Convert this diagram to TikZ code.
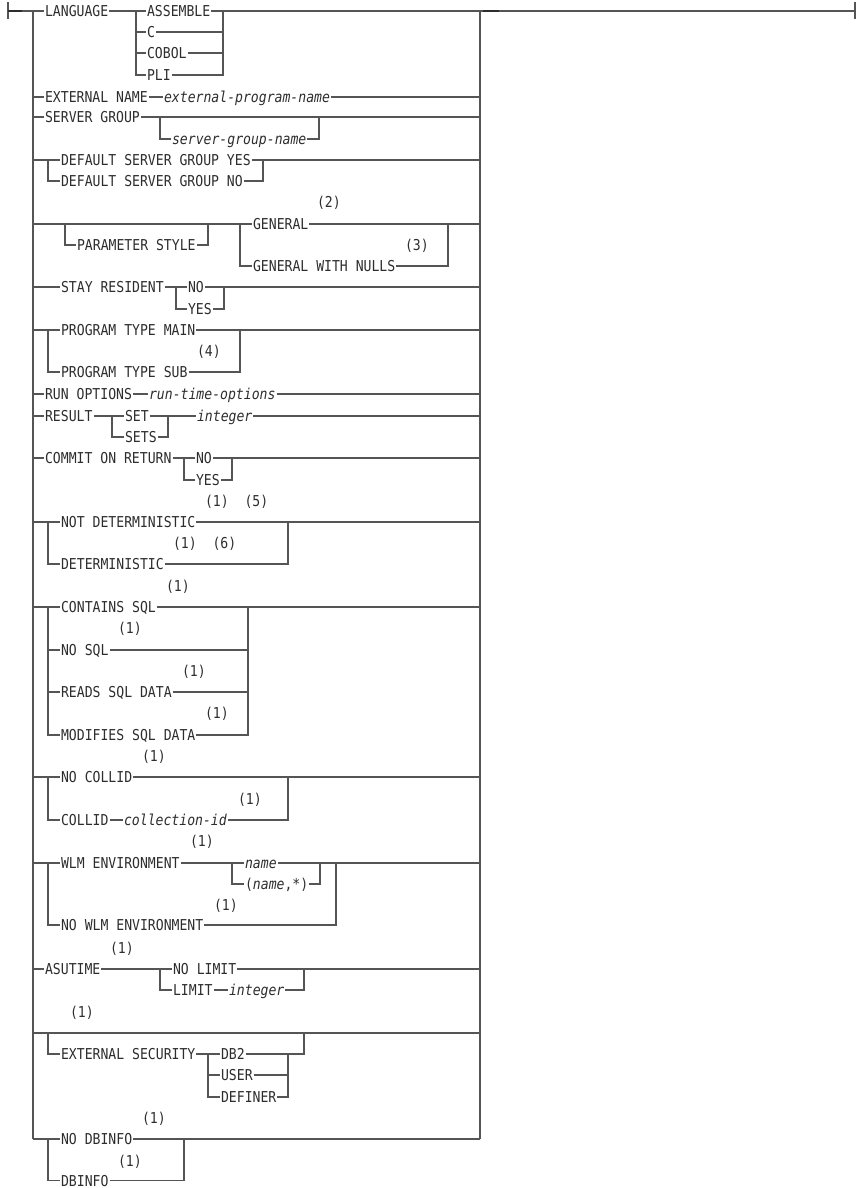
\documentclass[tikz,border=0pt]{standalone}
\usepackage{fontspec}
\newfontfamily\dm[FakeStretch=0.875]{DejaVu Sans Mono}
\definecolor{lc}{RGB}{85,85,85}
\definecolor{tx}{RGB}{45,45,45}
\tikzset{
 kw/.style={anchor=west, inner xsep=0.5pt, inner ysep=0pt, text height=11pt, text depth=0pt, font=\dm\fontsize{15}{15}\selectfont, text=tx},
 var/.style={kw, font=\dm\itshape\fontsize{15}{15}\selectfont},
 heavy/.style={line width=1.8pt, draw=tx},
}
\begin{document}
\begin{tikzpicture}[x=1pt, y=-1pt, line width=1.1pt, color=lc]
\useasboundingbox (0,0) rectangle (861,1188);
\coordinate (L) at (33,0);
\coordinate (R) at (480,0);
\coordinate (st) at (8,11);
\coordinate (en) at (855,11);
% nodes
\node[kw] (lang) at (44,11) {LANGUAGE};
\node[kw] (asm) at (146,11) {ASSEMBLE};
\node[kw] (c) at (146,32) {C};
\node[kw] (cob) at (146,53) {COBOL};
\node[kw] (pli) at (146,75) {PLI};
\node[kw] (ext) at (44,97) {EXTERNAL NAME};
\node[var] (epn) at (163,97) {external-program-name};
\node[kw] (sg) at (44,117) {SERVER GROUP};
\node[var] (sgn) at (171,139) {server-group-name};
\node[kw] (dy) at (60,160) {DEFAULT SERVER GROUP YES};
\node[kw] (dn) at (60,181) {DEFAULT SERVER GROUP NO};
\node[kw] (n2) at (316,202) {(2)};
\node[kw] (ps) at (76,245) {PARAMETER STYLE};
\node[kw] (gen) at (252,224) {GENERAL};
\node[kw] (n3) at (404,245) {(3)};
\node[kw] (gwn) at (252,266) {GENERAL WITH NULLS};
\node[kw] (sr) at (60,287) {STAY RESIDENT};
\node[kw] (srno) at (187,287) {NO};
\node[kw] (sryes) at (187,309) {YES};
\node[kw] (ptm) at (60,330) {PROGRAM TYPE MAIN};
\node[kw] (n4) at (196,351) {(4)};
\node[kw] (pts) at (60,372) {PROGRAM TYPE SUB};
\node[kw] (ro) at (44,394) {RUN OPTIONS};
\node[var] (rto) at (148,394) {run-time-options};
\node[kw] (res) at (44,416) {RESULT};
\node[kw] (set) at (124,416) {SET};
\node[kw] (sets) at (124,437) {SETS};
\node[var] (rint) at (196,416) {integer};
\node[kw] (cor) at (44,458) {COMMIT ON RETURN};
\node[kw] (corno) at (195,458) {NO};
\node[kw] (coryes) at (195,480) {YES};
\node[kw] (n15) at (204,501) {(1)\ \ (5)};
\node[kw] (nd) at (60,522) {NOT DETERMINISTIC};
\node[kw] (n16) at (172,543) {(1)\ \ (6)};
\node[kw] (det) at (60,564) {DETERMINISTIC};
\node[kw] (n1a) at (165,586) {(1)};
\node[kw] (cs) at (60,607) {CONTAINS SQL};
\node[kw] (n1b) at (117,628) {(1)};
\node[kw] (nsql) at (60,650) {NO SQL};
\node[kw] (n1c) at (181,671) {(1)};
\node[kw] (rsd) at (60,692) {READS SQL DATA};
\node[kw] (n1d) at (204,713) {(1)};
\node[kw] (msd) at (60,735) {MODIFIES SQL DATA};
\node[kw] (n1e) at (141,756) {(1)};
\node[kw] (nc) at (60,777) {NO COLLID};
\node[kw] (n1f) at (237,799) {(1)};
\node[kw] (col) at (60,820) {COLLID};
\node[var] (cid) at (123,820) {collection-id};
\node[kw] (n1g) at (189,841) {(1)};
\node[kw] (wlm) at (60,863) {WLM ENVIRONMENT};
\node[var] (wname) at (244,863) {name};
\node[kw] (wnst) at (244,884) {(\textit{name},*)};
\node[kw] (n1h) at (213,905) {(1)};
\node[kw] (nwlm) at (60,925) {NO WLM ENVIRONMENT};
\node[kw] (n1i) at (109,948) {(1)};
\node[kw] (asu) at (44,969) {ASUTIME};
\node[kw] (nl) at (172,969) {NO LIMIT};
\node[kw] (lim) at (172,990) {LIMIT};
\node[var] (aint) at (228,990) {integer};
\node[kw] (n1j) at (69,1012) {(1)};
\node[kw] (es) at (60,1054) {EXTERNAL SECURITY};
\node[kw] (db2) at (220,1054) {DB2};
\node[kw] (user) at (220,1075) {USER};
\node[kw] (def) at (220,1097) {DEFINER};
\node[kw] (n1k) at (141,1118) {(1)};
\node[kw] (ndb) at (60,1139) {NO DBINFO};
\node[kw] (n1l) at (117,1161) {(1)};
\node[kw] (dbi) at (60,1180.5) {DBINFO};
% main line and rails
\draw (8,2) -- (8,19);
\draw (855,2) -- (855,19);
\draw (st) -- (lang.west);
\draw (lang.east) -- (asm.west);
\draw (asm.east) -- (en);
\draw[heavy] (st) -- (22,11);
\draw[heavy] (483,11) -- (499,11);
\draw (33,11) -- (33,1139);
\draw (480,11) -- (480,1139);
% LANGUAGE
\draw (136,11) |- (pli.west);
\draw (136,32) -- (c.west);
\draw (136,53) -- (cob.west);
\draw (pli.east) -| (223,11);
\draw (c.east) -- (223,32);
\draw (cob.east) -- (223,53);
% EXTERNAL NAME
\draw (ext.west -| L) -- (ext.west);
\draw (ext.east) -- (epn.west);
\draw (epn.east) -- (epn.east -| R);
% SERVER GROUP
\draw (sg.west -| L) -- (sg.west);
\draw (sg.east) -- (sg.east -| R);
\draw (160,117) |- (sgn.west);
\draw (sgn.east) -| (319,117);
% DEFAULT SERVER GROUP
\draw (dy.west -| L) -- (dy.west);
\draw (48,160) |- (dn.west);
\draw (dn.east) -| (263,160);
\draw (dy.east) -- (dy.east -| R);
% PARAMETER STYLE
\draw (gen.west -| L) -- (gen.west);
\draw (65,224) |- (ps.west);
\draw (ps.east) -| (208,224);
\draw (240,224) |- (gwn.west);
\draw (gwn.east) -| (448,224);
\draw (gen.east) -- (gen.east -| R);
% STAY RESIDENT
\draw (sr.west -| L) -- (sr.west);
\draw (sr.east) -- (srno.west);
\draw (176,287) |- (sryes.west);
\draw (sryes.east) -| (224,287);
\draw (srno.east) -- (srno.east -| R);
% PROGRAM TYPE
\draw (ptm.west -| L) -- (ptm.west);
\draw (48,330) |- (pts.west);
\draw (pts.east) -| (240,330);
\draw (ptm.east) -- (ptm.east -| R);
% RUN OPTIONS
\draw (ro.west -| L) -- (ro.west);
\draw (ro.east) -- (rto.west);
\draw (rto.east) -- (rto.east -| R);
% RESULT
\draw (res.west -| L) -- (res.west);
\draw (res.east) -- (set.west);
\draw (112,416) |- (sets.west);
\draw (sets.east) -| (168,416);
\draw (set.east) -- (rint.west);
\draw (rint.east) -- (rint.east -| R);
% COMMIT ON RETURN
\draw (cor.west -| L) -- (cor.west);
\draw (cor.east) -- (corno.west);
\draw (184,458) |- (coryes.west);
\draw (coryes.east) -| (232,458);
\draw (corno.east) -- (corno.east -| R);
% DETERMINISTIC
\draw (nd.west -| L) -- (nd.west);
\draw (48,522) |- (det.west);
\draw (det.east) -| (288,522);
\draw (nd.east) -- (nd.east -| R);
% SQL
\draw (cs.west -| L) -- (cs.west);
\draw (48,607) |- (msd.west);
\draw (48,650) -- (nsql.west);
\draw (48,692) -- (rsd.west);
\draw (msd.east) -| (248,607);
\draw (nsql.east) -- (248,650);
\draw (rsd.east) -- (248,692);
\draw (cs.east) -- (cs.east -| R);
% COLLID
\draw (nc.west -| L) -- (nc.west);
\draw (48,777) |- (col.west);
\draw (col.east) -- (cid.west);
\draw (cid.east) -| (288,777);
\draw (nc.east) -- (nc.east -| R);
% WLM
\draw (wlm.west -| L) -- (wlm.west);
\draw (48,863) |- (nwlm.west);
\draw (wlm.east) -- (wname.west);
\draw (232,863) |- (wnst.west);
\draw (wnst.east) -| (320,863);
\draw (nwlm.east) -| (336,863);
\draw (wname.east) -- (wname.east -| R);
% ASUTIME
\draw (asu.west -| L) -- (asu.west);
\draw (asu.east) -- (nl.west);
\draw (160,969) |- (lim.west);
\draw (lim.east) -- (aint.west);
\draw (aint.east) -| (304,969);
\draw (nl.east) -- (nl.east -| R);
% EXTERNAL SECURITY
\draw (33,1033) -- (480,1033);
\draw (48,1033) |- (es.west);
\draw (es.east) -- (db2.west);
\draw (208,1054) |- (def.west);
\draw (208,1075) -- (user.west);
\draw (db2.east) -| (304,1033);
\draw (288,1054) |- (def.east);
\draw (user.east) -- (288,1075);
% DBINFO
\draw (ndb.west -| L) -- (ndb.west);
\draw (48,1139) |- (dbi.west);
\draw (dbi.east) -| (184,1139);
\draw (ndb.east) -- (ndb.east -| R);
\end{tikzpicture}
\end{document}
